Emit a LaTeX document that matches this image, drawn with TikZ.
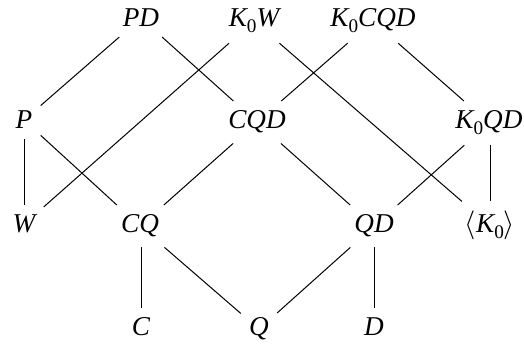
\documentclass[tikz,border=0pt]{standalone}
\usepackage{fontspec}
\setmainfont{Liberation Serif}
% K with an upright, lowered subscript zero
\newcommand{\Kz}{\textit{K}\raisebox{-0.22em}{\fontsize{9.6}{10}\selectfont\upshape 0}}
\begin{document}
\begin{tikzpicture}[x=0.5pt,y=-0.5pt,
  lbl/.style={anchor=base,inner xsep=4pt,inner ysep=4.8pt,
    font=\fontsize{13.6}{16}\selectfont\itshape},
  link/.style={line width=0.5pt}]
\useasboundingbox (0,0) rectangle (524,346);
% top row
\node[lbl] (PD)    at (141,27) {PD};
\node[lbl] (K0W)   at (254,27) {\Kz W};
\node[lbl] (K0CQD) at (373,27) {\Kz CQD};
% second row
\node[lbl] (P)     at (24,129)  {P};
\node[lbl] (CQD)   at (257,129) {CQD};
\node[lbl] (K0QD)  at (489,129) {\Kz QD};
% third row
\node[lbl] (W)     at (24,233)  {W};
\node[lbl] (CQ)    at (140,233) {CQ};
\node[lbl] (QD)    at (374,233) {QD};
\node[lbl] (K0)    at (490,233) {$\langle$\Kz$\rangle$};
% bottom row
\node[lbl] (C)     at (141,336) {C};
\node[lbl] (Q)     at (259,336) {Q};
\node[lbl] (D)     at (374,336) {D};
% connectors
\draw[link] (PD) -- (P);
\draw[link] (PD) -- (CQD);
\draw[link] (K0W) -- (W);
\draw[link] (K0W) -- (K0);
\draw[link] (K0CQD) -- (CQD);
\draw[link] (K0CQD) -- (K0QD);
\draw[link] (P.south -| W.north) -- (W.north);
\draw[link] (P) -- (CQ);
\draw[link] (CQD) -- (CQ);
\draw[link] (CQD) -- (QD);
\draw[link] (K0QD) -- (QD);
\draw[link] (K0QD.south -| K0.north) -- (K0.north);
\draw[link] (CQ.south -| C.north) -- (C.north);
\draw[link] (CQ) -- (Q);
\draw[link] (QD) -- (Q);
\draw[link] (QD.south -| D.north) -- (D.north);
\end{tikzpicture}
\end{document}
